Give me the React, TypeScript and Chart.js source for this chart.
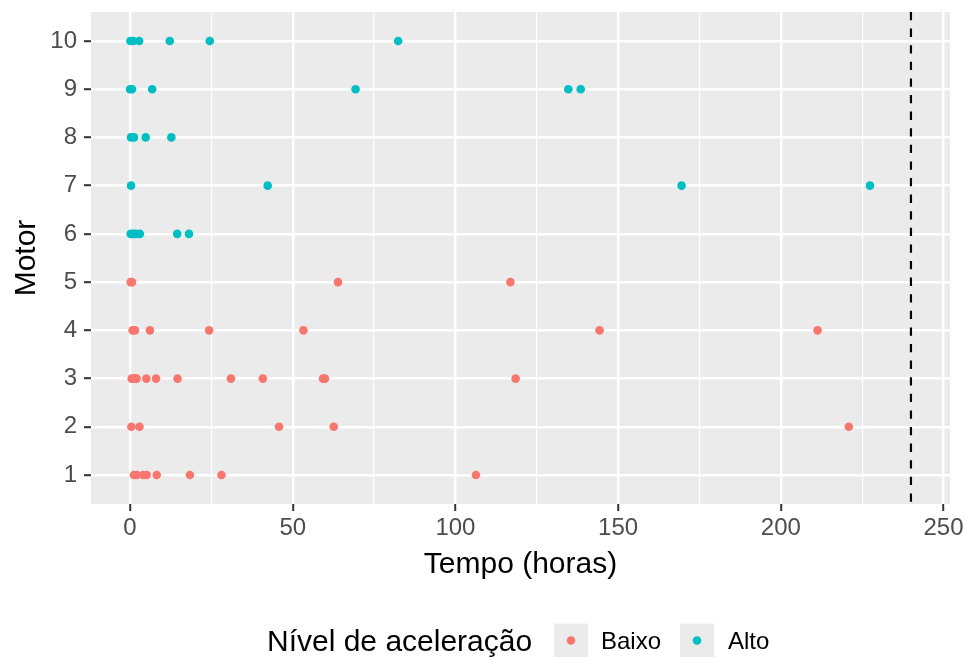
import { useEffect, useRef } from "react";
import { Chart, registerables } from "chart.js";

Chart.register(...registerables);

// Tempos de falha (horas) observados em cada motor
const tempoMotor1 = [1.2, 2.0, 4.0, 5.1, 8.2, 18.4, 28.1, 106.3];
const tempoMotor2 = [0.4, 2.9, 45.8, 62.6, 220.9];
const tempoMotor3 = [0.5, 1.0, 1.5, 2.0, 5.0, 8.0, 14.6, 31.0, 40.8, 59.3, 59.9, 118.5];
const tempoMotor4 = [0.8, 1.5, 6.1, 24.3, 53.3, 144.3, 211.3];
const tempoMotor5 = [0.2, 0.6, 63.9, 116.9];
const tempoMotor6 = [0.2, 1.0, 1.8, 3.0, 14.5, 18.1];
const tempoMotor7 = [0.3, 42.3, 169.5, 227.4];
const tempoMotor8 = [0.3, 1.2, 4.8, 12.7];
const tempoMotor9 = [0.0, 0.6, 6.8, 69.3, 134.7, 138.5];
const tempoMotor10 = [0.1, 1.0, 2.8, 12.2, 24.5, 82.4];

// Motores 1-5: aceleração baixa; motores 6-10: aceleração alta
const motoresBaixo = [1, 2, 3, 4, 5];
const temposBaixo = [tempoMotor1, tempoMotor2, tempoMotor3, tempoMotor4, tempoMotor5];
const motoresAlto = [6, 7, 8, 9, 10];
const temposAlto = [tempoMotor6, tempoMotor7, tempoMotor8, tempoMotor9, tempoMotor10];

// Fim do ensaio (censura)
const limiteEnsaio = 240;

const xTicks = [0, 25, 50, 75, 100, 125, 150, 175, 200, 225, 250];
const yTicks = [1, 2, 3, 4, 5, 6, 7, 8, 9, 10];
const xLimits = [-12, 252];
const yLimits = [0.4, 10.6];

const nivelLabels = ["Baixo", "Alto"];
const nivelColors = ["#F8766D", "#00BFC4"];
const tituloX = "Tempo (horas)";
const tituloY = "Motor";
const tituloLegenda = "Nível de aceleração";

const FONT = "'Liberation Sans', Arial, Helvetica, sans-serif";
const POINT_R = 4.3;
const TITLE_SIZE = 30;
const TEXT_SIZE = 24;

function toPoints(motores: number[], tempos: number[][]) {
  const pts: { x: number; y: number }[] = [];
  motores.forEach((m, i) => tempos[i].forEach((t) => pts.push({ x: t, y: m })));
  return pts;
}

const isMajor = (v: number) => v % 50 === 0;

const panelPlugin = {
  id: "panelDecor",
  beforeDraw(chart: any) {
    const { ctx, chartArea: a } = chart;
    ctx.save();
    ctx.fillStyle = "#EBEBEB";
    ctx.fillRect(a.left, a.top, a.right - a.left, a.bottom - a.top);
    ctx.restore();
  },
  afterDraw(chart: any) {
    const { ctx, chartArea: a } = chart;
    ctx.save();
    ctx.fillStyle = "#000000";
    ctx.textBaseline = "alphabetic";

    // axis titles
    ctx.font = `${TITLE_SIZE}px ${FONT}`;
    ctx.textAlign = "center";
    ctx.fillText(tituloX, (a.left + a.right) / 2, a.bottom + 69);
    ctx.save();
    ctx.translate(34.5, (a.top + a.bottom) / 2);
    ctx.rotate(-Math.PI / 2);
    ctx.fillText(tituloY, 0, 0);
    ctx.restore();

    // legend at bottom
    const cy = 640.5;
    const keySize = 34;
    const keyX = [554, 680];
    const labelX = [601, 728];
    ctx.textAlign = "left";
    ctx.font = `${TITLE_SIZE}px ${FONT}`;
    ctx.fillText(tituloLegenda, 267, cy + 10.7);
    ctx.font = `${TEXT_SIZE}px ${FONT}`;
    nivelLabels.forEach((lab, i) => {
      ctx.fillStyle = "#EBEBEB";
      ctx.fillRect(keyX[i], cy - keySize / 2, keySize, keySize);
      ctx.fillStyle = nivelColors[i];
      ctx.beginPath();
      ctx.arc(keyX[i] + keySize / 2, cy, POINT_R, 0, Math.PI * 2);
      ctx.fill();
      ctx.fillStyle = "#000000";
      ctx.fillText(lab, labelX[i], cy + 8.6);
    });
    ctx.restore();
  },
};

export default function App() {
  const ref = useRef<HTMLCanvasElement | null>(null);

  useEffect(() => {
    if (!ref.current) return;
    const chart = new Chart(ref.current, {
      type: "scatter",
      data: {
        datasets: [
          {
            label: nivelLabels[0],
            data: toPoints(motoresBaixo, temposBaixo),
            backgroundColor: nivelColors[0],
            borderWidth: 0,
            pointRadius: POINT_R,
          },
          {
            label: nivelLabels[1],
            data: toPoints(motoresAlto, temposAlto),
            backgroundColor: nivelColors[1],
            borderWidth: 0,
            pointRadius: POINT_R,
          },
          {
            type: "line",
            label: "limite",
            data: [
              { x: limiteEnsaio, y: yLimits[1] },
              { x: limiteEnsaio, y: yLimits[0] },
            ],
            showLine: true,
            borderColor: "#000000",
            borderWidth: 2.2,
            borderDash: [8.3, 8.3],
            pointRadius: 0,
            fill: false,
          } as any,
        ],
      },
      options: {
        responsive: false,
        animation: false,
        events: [],
        layout: { autoPadding: false, padding: { top: 12, right: 17, left: 0, bottom: 0 } },
        plugins: {
          legend: { display: false },
          tooltip: { enabled: false },
          title: { display: false },
        },
        scales: {
          x: {
            type: "linear",
            min: xLimits[0],
            max: xLimits[1],
            afterBuildTicks: (scale: any) => {
              scale.ticks = xTicks.map((v) => ({ value: v }));
            },
            afterFit: (scale: any) => {
              scale.height = 153;
              scale.paddingLeft = 0;
              scale.paddingRight = 0;
              scale.paddingTop = 0;
              scale.paddingBottom = 0;
            },
            border: { display: false },
            grid: {
              color: "#FFFFFF",
              lineWidth: (c: any) => (c.tick && isMajor(c.tick.value) ? 2.4 : 1.2),
              drawTicks: true,
              tickLength: 7,
              tickWidth: 2,
              tickColor: (c: any) =>
                c.tick && isMajor(c.tick.value) ? "#333333" : "rgba(0,0,0,0)",
            },
            ticks: {
              autoSkip: false,
              maxRotation: 0,
              padding: 3,
              color: "#4D4D4D",
              font: { family: FONT, size: TEXT_SIZE },
              callback: (v: any) => (isMajor(Number(v)) ? String(v) : ""),
            },
          },
          y: {
            type: "linear",
            min: yLimits[0],
            max: yLimits[1],
            afterBuildTicks: (scale: any) => {
              scale.ticks = yTicks.map((v) => ({ value: v }));
            },
            afterFit: (scale: any) => {
              scale.width = 91;
              scale.paddingLeft = 0;
              scale.paddingRight = 0;
              scale.paddingTop = 0;
              scale.paddingBottom = 0;
            },
            border: { display: false },
            grid: {
              color: "#FFFFFF",
              lineWidth: 2.4,
              drawTicks: true,
              tickLength: 7,
              tickWidth: 2,
              tickColor: "#333333",
            },
            ticks: {
              autoSkip: false,
              padding: 7,
              color: "#4D4D4D",
              font: { family: FONT, size: TEXT_SIZE },
              callback: (v: any) => String(v),
            },
          },
        },
      },
      plugins: [panelPlugin],
    });
    return () => chart.destroy();
  }, []);

  return (
    <div style={{ position: "absolute", left: 0, top: 0, width: 967, height: 657, background: "#FFFFFF" }}>
      <canvas ref={ref} width={967} height={657} style={{ display: "block" }} />
    </div>
  );
}
